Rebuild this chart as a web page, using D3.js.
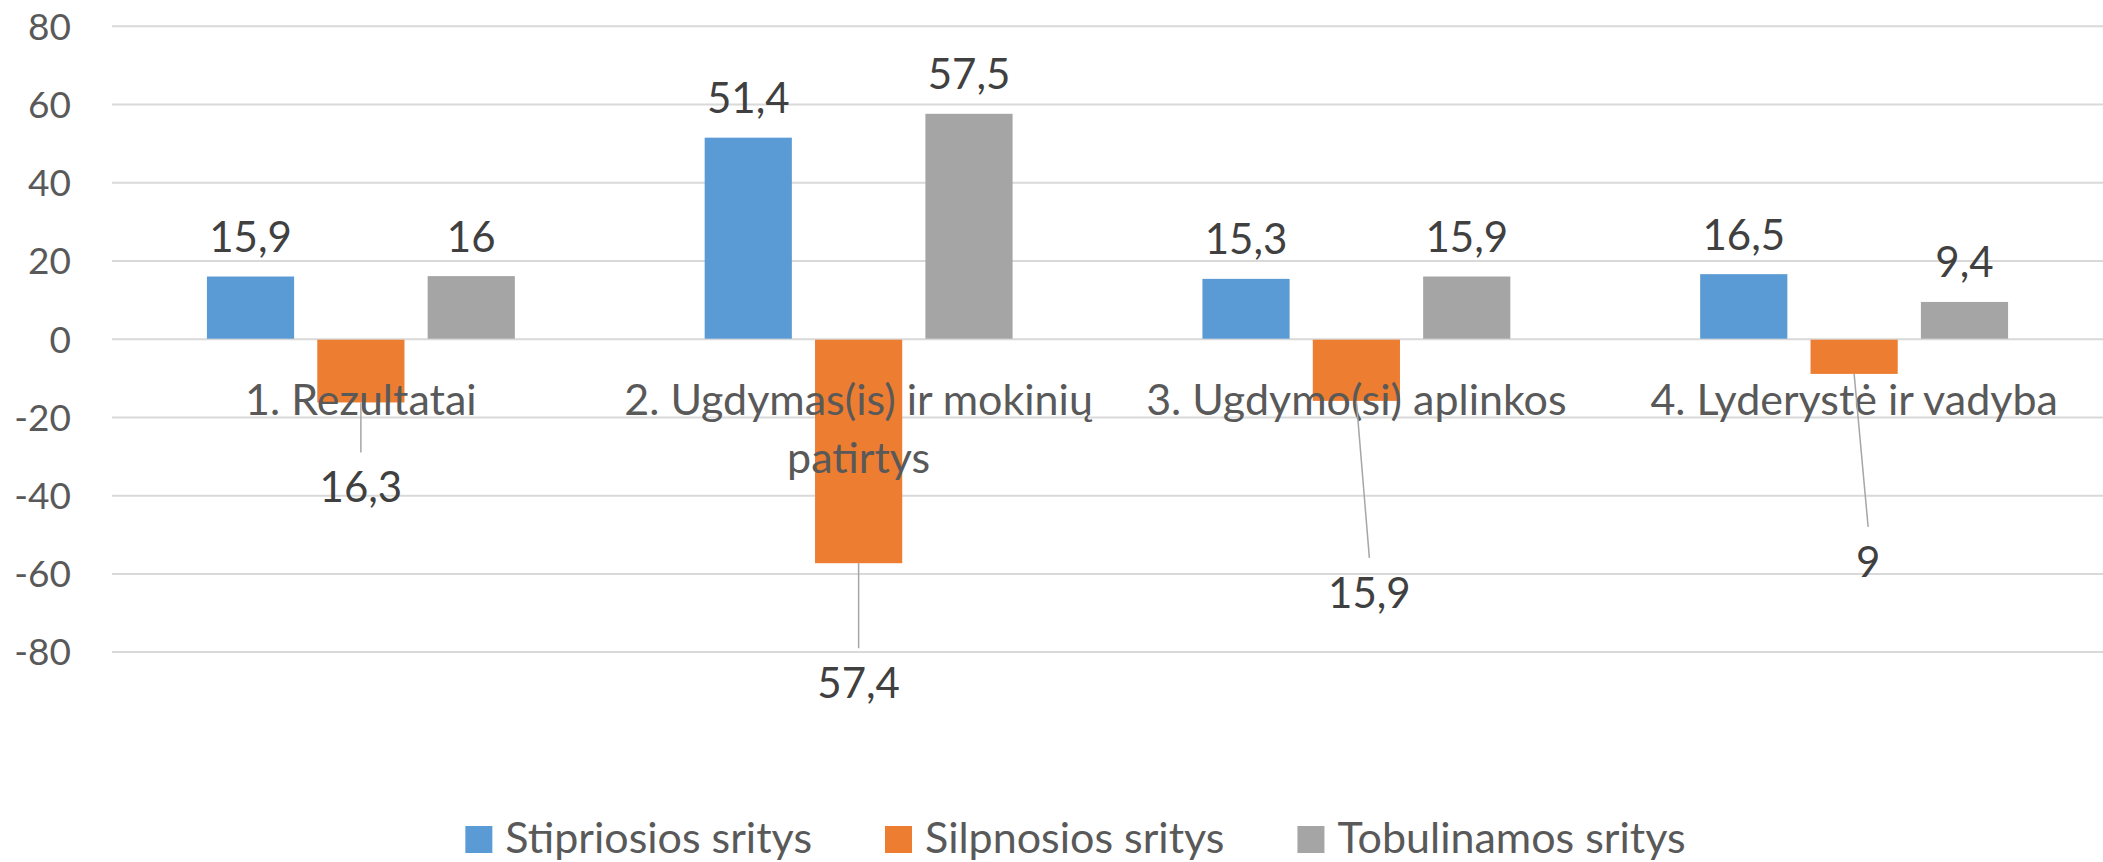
<!DOCTYPE html>
<html>
<head>
<meta charset="utf-8">
<script src="https://cdn.jsdelivr.net/npm/d3@7"></script>
<style>
  body { margin: 0; background: #fff; }
  svg text { font-family: Lato, "Open Sans", sans-serif; }
</style>
</head>
<body>
<svg id="chart"></svg>
<script>
// ---------------- data ----------------
var categories = ["1. Rezultatai", "2. Ugdymas(is) ir mokinių\npatirtys", "3. Ugdymo(si) aplinkos", "4. Lyderystė ir vadyba"];
var seriesNames = ["Stipriosios sritys", "Silpnosios sritys", "Tobulinamos sritys"];
var stipriosios = [15.9, 51.4, 15.3, 16.5];
var silpnosios = [-16.3, -57.4, -15.9, -9];
var tobulinamos = [16, 57.5, 15.9, 9.4];
var yTicks = [-80, -60, -40, -20, 0, 20, 40, 60, 80];
var colors = ["#5B9BD5", "#ED7D31", "#A5A5A5"];

// dragged label placement for the negative bars (px below bar end, px to the right)
var dropBelow = [100, 135, 207, 203];
var shiftRight = [0, 0, 13, 14];

var width = 2103, height = 862;
var margin = {left: 112, right: 0};

var svg = d3.select('#chart')
  .attr('width', width)
  .attr('height', height);

var seriesValues = [stipriosios, silpnosios, tobulinamos];
var rows = [];
categories.forEach(function(c, i){
  seriesNames.forEach(function(s, j){
    rows.push({cat: c, i: i, series: s, j: j, value: seriesValues[j][i]});
  });
});

// scales
var y = d3.scaleLinear().domain([-80, 80]).range([651.6, 25.8]);
var x0 = d3.scaleBand().domain(categories).range([margin.left, width - margin.right]);
var x1 = d3.scaleBand().domain(seriesNames).range([0, x0.bandwidth()])
  .paddingInner(0.21).paddingOuter(0.86);

// grid + y axis
var yAxis = svg.append('g')
  .attr('transform', `translate(${margin.left},0)`)
  .call(d3.axisLeft(y)
    .tickValues(yTicks)
    .tickFormat(d => String(d))
    .tickSize(-(width - margin.left - margin.right))
    .tickPadding(41));
yAxis.select('.domain').remove();
yAxis.selectAll('line').attr('stroke', '#d9d9d9').attr('stroke-width', 2);
yAxis.selectAll('text')
  .attr('fill', '#595959')
  .style('font-size', '37px')
  .attr('dy', '0.36em');

// bars
svg.append('g').selectAll('rect')
  .data(rows)
  .enter()
  .append('rect')
    .attr('x', d => x0(d.cat) + x1(d.series))
    .attr('width', x1.bandwidth())
    .attr('y', d => d.value >= 0 ? y(d.value) : y(0) + 1)
    .attr('height', d => Math.abs(y(d.value) - y(0)) - (d.value < 0 ? 1 : 0))
    .attr('fill', d => colors[d.j]);

// category labels (drawn over the bars)
var catG = svg.append('g');
categories.forEach(function(c){
  var t = catG.append('text')
    .attr('text-anchor', 'middle')
    .attr('fill', '#595959')
    .style('font-size', '43px');
  c.split('\n').forEach(function(line, k){
    t.append('tspan')
      .attr('x', x0(c) + x0.bandwidth()/2)
      .attr('y', 415 + k*58)
      .text(line);
  });
});

// data labels
function fmt(v){ return String(Math.abs(v)).replace('.', ','); }

var labelG = svg.append('g');
rows.forEach(function(d){
  var cx = x0(d.cat) + x1(d.series) + x1.bandwidth()/2;
  if (d.value >= 0) {
    labelG.append('text')
      .attr('x', cx)
      .attr('y', y(d.value) - 24.5)
      .attr('text-anchor', 'middle')
      .attr('fill', '#404040')
      .style('font-size', '42px')
      .text(fmt(d.value));
  } else {
    var lx = cx + shiftRight[d.i];
    var base = y(d.value) + dropBelow[d.i];
    labelG.append('line')
      .attr('x1', cx).attr('y1', y(d.value))
      .attr('x2', lx).attr('y2', base - 50)
      .attr('stroke', '#a6a6a6')
      .attr('stroke-width', 1.5);
    labelG.append('text')
      .attr('x', lx)
      .attr('y', base)
      .attr('text-anchor', 'middle')
      .attr('fill', '#404040')
      .style('font-size', '42px')
      .text(fmt(d.value));
  }
});

// legend
var legend = svg.append('g');
var lx = 0;
seriesNames.forEach(function(s, j){
  var item = legend.append('g').attr('transform', `translate(${lx},0)`);
  item.append('rect')
    .attr('x', 0).attr('y', -27)
    .attr('width', 27).attr('height', 27)
    .attr('fill', colors[j]);
  var t = item.append('text')
    .attr('x', 40).attr('y', 0)
    .attr('fill', '#595959')
    .style('font-size', '43px')
    .text(s);
  lx += 40 + t.node().getComputedTextLength() + 73;
});
var legendW = lx - 73;
legend.attr('transform', `translate(${1075.5 - legendW/2}, 853)`);
</script>
</body>
</html>
